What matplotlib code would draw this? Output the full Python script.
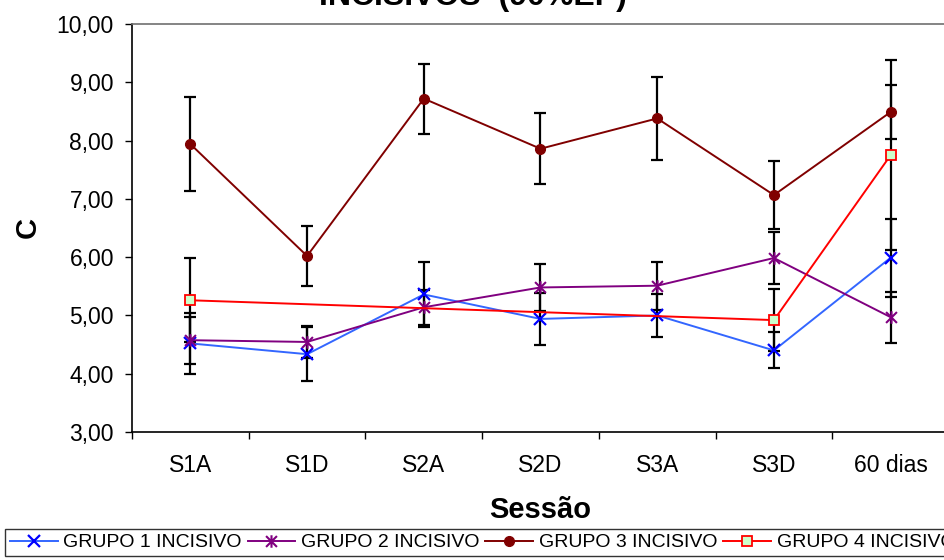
import matplotlib
matplotlib.use("Agg")
import matplotlib.pyplot as plt
from matplotlib.path import Path
from matplotlib.ticker import FixedLocator, FuncFormatter

plt.rcParams["font.family"] = ["Liberation Sans", "DejaVu Sans"]

# data
sessions = ["S1A", "S1D", "S2A", "S2D", "S3A", "S3D", "60 dias"]

g1 = [4.52, 4.335, 5.36, 4.94, 5.00, 4.40, 5.99]
g1_err = [0.52, 0.465, 0.56, 0.45, 0.37, 0.31, 0.67]

g2 = [4.575, 4.545, 5.14, 5.48, 5.51, 5.985, 4.97]
g2_err = [0.40, 0.28, 0.30, 0.41, 0.41, 0.45, 0.44]

g3 = [7.94, 6.02, 8.72, 7.86, 8.38, 7.065, 8.49]
g3_err = [0.80, 0.51, 0.60, 0.61, 0.71, 0.58, 0.46]

# group 4 only has values for three sessions (Excel joins across the gaps)
g4_idx = [0, 5, 6]
g4 = [5.26, 4.92, 7.75]
g4_err = [0.72, 0.53, 1.63]

labels = ["GRUPO 1 INCISIVO", "GRUPO 2 INCISIVO", "GRUPO 3 INCISIVO", "GRUPO 4 INCISIVO"]

# Excel style "star": an x with a vertical stroke through it
star = Path([(-1, -1), (1, 1), (-1, 1), (1, -1), (0, -1.15), (0, 1.15)],
            [Path.MOVETO, Path.LINETO, Path.MOVETO, Path.LINETO, Path.MOVETO, Path.LINETO])

fig = plt.figure(figsize=(9.45, 5.6), dpi=100)
ax = fig.add_axes([132 / 945, 1 - 432 / 560, 817 / 945, 408 / 560])

x = list(range(len(sessions)))

styles = [
    (x, g1, g1_err, dict(color="#3366FF", marker="x", ms=8, mec="#0000FF", mew=1.6)),
    (x, g2, g2_err, dict(color="#800080", marker=star, ms=9, mec="#800080", mfc="none", mew=1.5)),
    (x, g3, g3_err, dict(color="#800000", marker="o", ms=7, mec="#800000", mfc="#800000")),
    (g4_idx, g4, g4_err, dict(color="#FF0000", marker="s", ms=6.5, mec="#FF0000", mfc="#CCFFCC", mew=1.3)),
]

for (xs, ys, es, st), lab in zip(styles, labels):
    ax.errorbar(xs, ys, yerr=es, fmt="none", ecolor="black", elinewidth=1.6,
                capsize=4.5, capthick=1.6, zorder=2)
    ax.plot(xs, ys, lw=1.4, label=lab, zorder=3, **st)

ax.set_xlim(-0.5, 6.5)
ax.set_ylim(3, 10)

ax.set_xticks(x)
ax.set_xticklabels(sessions)
ax.xaxis.set_minor_locator(FixedLocator([i - 0.5 for i in range(len(sessions) + 1)]))
ax.tick_params(axis="x", which="major", length=0, pad=16, labelsize=16.5)
ax.tick_params(axis="x", which="minor", length=5, width=1, direction="out")

ax.set_yticks([3, 4, 5, 6, 7, 8, 9, 10])
ax.yaxis.set_major_formatter(FuncFormatter(lambda v, p: f"{v:.2f}".replace(".", ",")))
ax.tick_params(axis="y", length=5, width=1, pad=8, labelsize=16.5)

for side in ["left", "bottom"]:
    ax.spines[side].set_color("black")
    ax.spines[side].set_linewidth(1.2)
for side in ["top", "right"]:
    ax.spines[side].set_color("#707070")
    ax.spines[side].set_linewidth(1.2)

# title sits mostly above the top edge, as in the cropped original
fig.text(0.5, 1 - 4.5 / 560, "INCISIVOS  (90%EP)", ha="center", va="baseline",
         fontsize=23, fontweight="bold")
fig.text(540.5 / 945, 1 - 518 / 560, "Sessão", ha="center", va="baseline",
         fontsize=21, fontweight="bold")
fig.text(28 / 945, 1 - 228 / 560, "C", ha="center", va="center", rotation=90,
         fontsize=21, fontweight="bold")

leg = fig.legend(loc="upper left", bbox_to_anchor=(5 / 945, 1 - 529 / 560),
                 bbox_transform=fig.transFigure, ncol=4, fontsize=14,
                 frameon=True, fancybox=False, borderaxespad=0, borderpad=0.25,
                 handlelength=2.45, handletextpad=0.3, columnspacing=0.3)
leg.get_frame().set_edgecolor("black")
leg.get_frame().set_linewidth(1.0)

fig.savefig("out.png", dpi=100)
